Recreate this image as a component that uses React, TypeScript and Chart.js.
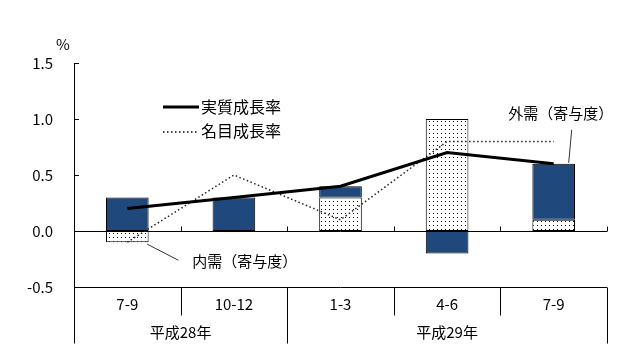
import React, { useEffect, useRef } from "react";
import { Chart, registerables } from "chart.js";

Chart.register(...registerables);

const quarters = ["7-9", "10-12", "1-3", "4-6", "7-9"];
const years = ["平成28年", "平成29年"];
const yearSpans = [2, 3];
const domestic = [-0.1, 0.0, 0.3, 1.0, 0.1];
const external = [0.3, 0.3, 0.1, -0.2, 0.5];
const realGrowth = [0.2, 0.3, 0.4, 0.7, 0.6];
const nominalGrowth = [-0.1, 0.5, 0.1, 0.8, 0.8];
const yTicks = [-0.5, 0.0, 0.5, 1.0, 1.5];
const labelDomestic = "内需（寄与度）";
const labelExternal = "外需（寄与度）";
const labelReal = "実質成長率";
const labelNominal = "名目成長率";
const unitLabel = "%";

const FONT = "'Noto Sans CJK JP', 'Noto Sans', sans-serif";

export default function App() {
  const ref = useRef<HTMLCanvasElement>(null);

  useEffect(() => {
    const canvas = ref.current;
    if (!canvas) return;
    const ctx = canvas.getContext("2d")!;

    const pc = document.createElement("canvas");
    pc.width = 4;
    pc.height = 4;
    const pctx = pc.getContext("2d")!;
    pctx.fillStyle = "#fff";
    pctx.fillRect(0, 0, 4, 4);
    pctx.fillStyle = "#000";
    pctx.fillRect(1, 1, 1, 1);
    const pattern = ctx.createPattern(pc, "repeat")!;

    const decor = {
      id: "decor",
      beforeDatasetsDraw(chart: any) {
        const { ctx: c, chartArea: a, scales } = chart;
        const x = scales.x;
        const y = scales.y;
        c.save();
        c.strokeStyle = "#000";
        c.lineWidth = 1;
        c.beginPath();
        const y0 = Math.round(y.getPixelForValue(0)) + 0.5;
        c.moveTo(a.left, y0);
        c.lineTo(a.right, y0);
        for (let i = 0; i < quarters.length; i++) {
          const bx = Math.round(x.getPixelForValue(i + 0.5)) + 0.5;
          c.moveTo(bx, y0);
          c.lineTo(bx, y0 - 5);
        }
        yTicks.forEach((v) => {
          const py = Math.round(y.getPixelForValue(v)) + 0.5;
          c.moveTo(a.left, py);
          c.lineTo(a.left + 5, py);
        });
        c.stroke();
        c.restore();
      },
      afterDraw(chart: any) {
        const { ctx: c, chartArea: a, scales } = chart;
        const x = scales.x;
        const y = scales.y;
        c.save();
        c.strokeStyle = "#000";
        c.lineWidth = 1;
        const top = Math.round(a.bottom) + 0.5;
        const rowH = 28;
        const bottom = top + rowH * 2;
        // table
        c.beginPath();
        c.moveTo(a.left, top);
        c.lineTo(a.right, top);
        const leftX = Math.round(x.getPixelForValue(-0.5)) + 0.5;
        c.moveTo(leftX, top);
        c.lineTo(leftX, bottom);
        let acc = 0;
        const yearEnds = new Set<number>();
        yearSpans.forEach((s) => {
          acc += s;
          yearEnds.add(acc);
        });
        for (let i = 1; i <= quarters.length; i++) {
          const bx = Math.round(x.getPixelForValue(i - 0.5)) + 0.5;
          c.moveTo(bx, top);
          c.lineTo(bx, yearEnds.has(i) ? bottom : top + rowH);
        }
        c.stroke();

        c.fillStyle = "#000";
        c.textAlign = "center";
        c.textBaseline = "middle";
        c.font = `15px ${FONT}`;
        quarters.forEach((q, i) => {
          c.fillText(q, x.getPixelForValue(i), top + 17);
        });
        let start = 0;
        years.forEach((yl, i) => {
          const span = yearSpans[i];
          const cx = (x.getPixelForValue(start - 0.5) + x.getPixelForValue(start + span - 0.5)) / 2;
          c.fillText(yl, cx, top + 45);
          start += span;
        });

        // unit
        c.fillText(unitLabel, a.left - 11, a.top - 19);

        // legend
        const lx = a.left + 89;
        c.textAlign = "left";
        c.beginPath();
        c.lineWidth = 3;
        c.moveTo(lx, a.top + 44);
        c.lineTo(lx + 36, a.top + 44);
        c.stroke();
        c.beginPath();
        c.lineWidth = 1.5;
        c.setLineDash([1.5, 2.5]);
        c.moveTo(lx, a.top + 69);
        c.lineTo(lx + 36, a.top + 69);
        c.stroke();
        c.setLineDash([]);
        c.font = `16px ${FONT}`;
        c.fillText(labelReal, lx + 38, a.top + 44);
        c.fillText(labelNominal, lx + 38, a.top + 68);

        // annotations
        c.font = `15px ${FONT}`;
        c.lineWidth = 1;
        c.strokeStyle = "#333";
        const b1x = x.getPixelForValue(0) + 20;
        const b1y = y.getPixelForValue(domestic[0]) + 2;
        c.beginPath();
        c.moveTo(b1x, b1y);
        c.lineTo(b1x + 31, b1y + 16);
        c.stroke();
        c.fillText(labelDomestic, b1x + 45, b1y + 17);

        const b5x = x.getPixelForValue(4) + 15;
        const b5y = y.getPixelForValue(domestic[4] + external[4]) - 1;
        c.beginPath();
        c.moveTo(b5x, b5y);
        c.lineTo(b5x + 3, b5y - 33);
        c.stroke();
        c.textAlign = "center";
        c.fillText(labelExternal, x.getPixelForValue(4) + 7, b5y - 50);
        c.restore();
      },
    };

    const chart = new Chart(canvas, {
      type: "bar",
      data: {
        labels: quarters,
        datasets: [
          {
            type: "bar",
            label: labelDomestic,
            data: domestic,
            backgroundColor: pattern,
            borderColor: "#000",
            borderWidth: 1,
            borderSkipped: false,
            stack: "contrib",
            order: 1,
            barPercentage: 0.4,
            categoryPercentage: 1,
          },
          {
            type: "bar",
            label: labelExternal,
            data: external,
            backgroundColor: "#1F497D",
            borderColor: "#000",
            borderWidth: 1,
            borderSkipped: false,
            stack: "contrib",
            order: 1,
            barPercentage: 0.4,
            categoryPercentage: 1,
          },
          {
            type: "line",
            label: labelReal,
            data: realGrowth,
            borderColor: "#000",
            borderWidth: 3,
            pointRadius: 0,
            tension: 0,
            fill: false,
            stack: "real",
            order: 0,
          },
          {
            type: "line",
            label: labelNominal,
            data: nominalGrowth,
            borderColor: "#222",
            borderWidth: 1.5,
            borderDash: [1.5, 2.5],
            pointRadius: 0,
            tension: 0,
            fill: false,
            stack: "nominal",
            order: 0,
          },
        ] as any,
      },
      options: {
        responsive: false,
        animation: false,
        layout: { padding: { top: 63, right: 33, bottom: 72, left: 0 } },
        plugins: { legend: { display: false }, tooltip: { enabled: false } },
        scales: {
          x: { display: false, stacked: true, offset: true },
          y: {
            stacked: true,
            min: -0.5,
            max: 1.5,
            afterFit: (s: any) => {
              s.width = 74;
            },
            afterBuildTicks: (s: any) => {
              s.ticks = yTicks.map((v) => ({ value: v }));
            },
            grid: { display: false, drawTicks: false },
            border: { display: true, color: "#000", width: 1 },
            ticks: {
              color: "#000",
              padding: 21,
              font: { family: FONT, size: 15 },
              callback: (v: any) => Number(v).toFixed(1),
            },
          },
        },
      },
      plugins: [decor],
    } as any);

    return () => chart.destroy();
  }, []);

  return (
    <div style={{ position: "absolute", left: 0, top: 0, width: 640, height: 359, background: "#fff" }}>
      <canvas ref={ref} width={640} height={359} style={{ width: 640, height: 359, display: "block" }} />
    </div>
  );
}
